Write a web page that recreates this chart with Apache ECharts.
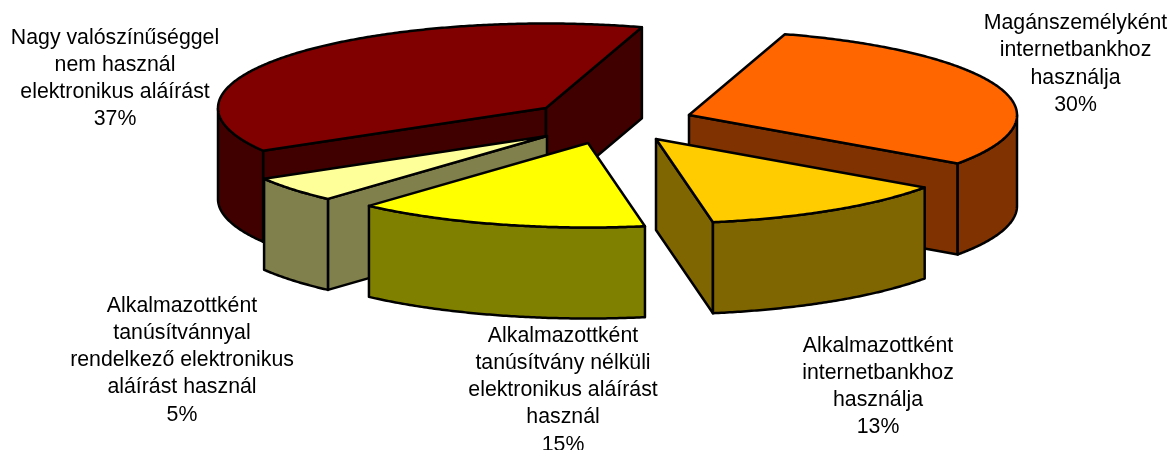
<!DOCTYPE html>
<html><head><meta charset="utf-8">
<script src="https://cdn.jsdelivr.net/npm/echarts@6/dist/echarts.min.js"></script>
<style>html,body{margin:0;padding:0;background:#fff}#c{width:1171px;height:450px}</style></head>
<body><div id="c"></div>
<script>
const categories = [
  "Magánszemélyként\ninternetbankhoz\nhasználja",
  "Alkalmazottként\ninternetbankhoz\nhasználja",
  "Alkalmazottként\ntanúsítvány nélküli\nelektronikus aláírást\nhasznál",
  "Alkalmazottként\ntanúsítvánnyal\nrendelkező elektronikus\naláírást használ",
  "Nagy valószínűséggel\nnem használ\nelektronikus aláírást"
];
const values = [30, 13, 15, 5, 37];
const topColors = ["#FF6600", "#FFCC00", "#FFFF00", "#FFFF99", "#800000"];
const wallColors = ["#803300", "#806600", "#808000", "#80804D", "#400000"];
const apexX = [689, 656, 588, 547, 546];
const apexY = [115, 139, 143, 136, 108];
const perspectiveShift = [0, 0, 1.8, 3.9, 4.2];
const labelX = [1075.5, 878, 563, 182, 115];
const labelY = [9.5, 332, 322, 292, 24];
const drawOrder = [4, 3, 2, 0, 1];

const RX = 328, RY = 84.5, DEPTH = 91, START = 73;
const total = values.reduce((a, b) => a + b, 0);
const bounds = [];
values.reduce((acc, v, i) => { bounds[i] = acc + perspectiveShift[i]; return acc - v / total * 360; }, START);
bounds.push(START - 360);

function renderItem(params, api) {
  const i = api.value(0), v = api.value(1);
  const ax = apexX[i], ay = apexY[i];
  const a0 = bounds[i], a1 = bounds[i + 1];
  const pt = a => [ax + RX * Math.cos(a * Math.PI / 180), ay - RY * Math.sin(a * Math.PI / 180)];
  const rim = [];
  const n = Math.ceil((a0 - a1) * 2);
  for (let k = 0; k <= n; k++) rim.push(pt(a0 + (a1 - a0) * k / n));
  const line = { stroke: "#000", lineWidth: 2.5, lineJoin: "round" };
  const down = p => [p[0], p[1] + DEPTH];
  const children = [];
  const wall = pts => children.push({ type: "polygon", shape: { points: pts },
    style: Object.assign({ fill: wallColors[i] }, line) });
  const apex = [ax, ay];
  const first = rim[0], last = rim[rim.length - 1];
  // radial walls: shown only when their outward normal points down the screen
  if (first[0] < ax) wall([apex, first, down(first), down(apex)]);
  if (last[0] > ax) wall([apex, last, down(last), down(apex)]);
  // curved outer wall: the front half of the rim only
  let run = [];
  const flush = () => {
    if (run.length > 1) wall(run.concat(run.slice().reverse().map(down)));
    run = [];
  };
  rim.forEach(p => { if (p[1] >= ay - 0.01) run.push(p); else flush(); });
  flush();
  children.push({ type: "polygon", shape: { points: [apex].concat(rim) },
    style: Object.assign({ fill: topColors[i] }, line) });
  children.push({ type: "text", style: {
    text: categories[i] + "\n" + v + "%", x: labelX[i], y: labelY[i],
    align: "center", verticalAlign: "top", fill: "#000",
    font: '21.3px "Liberation Sans", Arial, sans-serif', lineHeight: 27.3 }, z2: 100 });
  return { type: "group", children };
}

const chart = echarts.init(document.getElementById("c"), null, { renderer: "canvas" });
chart.setOption({
  animation: false,
  backgroundColor: "#fff",
  series: [{
    type: "custom",
    coordinateSystem: "none",
    clip: false,
    renderItem,
    data: drawOrder.map(i => [i, values[i]])
  }]
});
</script></body></html>
